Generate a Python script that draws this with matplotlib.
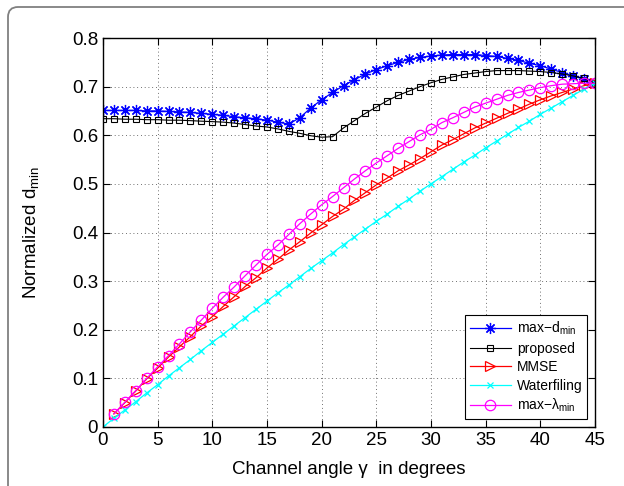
import matplotlib
matplotlib.use('Agg')
import matplotlib.pyplot as plt
from matplotlib.patches import FancyBboxPatch

plt.rcParams.update({
    'font.family': ['Liberation Sans', 'DejaVu Sans'],
    'mathtext.default': 'regular',
    'font.size': 13,
})

# channel angle in degrees
gamma = list(range(0, 46))
gamma1 = list(range(1, 46))

max_dmin = [0.651, 0.651, 0.651, 0.651, 0.650, 0.650, 0.649, 0.648, 0.647, 0.645,
            0.643, 0.641, 0.638, 0.636, 0.634, 0.631, 0.627, 0.623, 0.636, 0.656,
            0.673, 0.688, 0.702, 0.714, 0.726, 0.735, 0.743, 0.750, 0.756, 0.760,
            0.763, 0.765, 0.766, 0.766, 0.766, 0.764, 0.762, 0.758, 0.754, 0.748,
            0.743, 0.736, 0.729, 0.722, 0.715, 0.708]

proposed = [0.634, 0.634, 0.633, 0.633, 0.632, 0.632, 0.631, 0.631, 0.630, 0.629,
            0.628, 0.627, 0.625, 0.622, 0.619, 0.617, 0.613, 0.608, 0.604, 0.599,
            0.596, 0.597, 0.615, 0.630, 0.645, 0.658, 0.671, 0.682, 0.691, 0.700,
            0.708, 0.715, 0.720, 0.725, 0.728, 0.731, 0.733, 0.733, 0.733, 0.732,
            0.731, 0.729, 0.726, 0.722, 0.717, 0.708]

mmse = [0.027, 0.050, 0.074, 0.099, 0.121, 0.144, 0.165, 0.186, 0.208,
        0.227, 0.248, 0.268, 0.289, 0.307, 0.327, 0.345, 0.364, 0.381, 0.399,
        0.416, 0.433, 0.448, 0.466, 0.482, 0.498, 0.512, 0.527, 0.539, 0.552,
        0.566, 0.580, 0.591, 0.603, 0.615, 0.625, 0.635, 0.645, 0.654, 0.664,
        0.673, 0.681, 0.688, 0.695, 0.702, 0.707]

waterfiling = [0.000, 0.018, 0.035, 0.052, 0.070, 0.087, 0.105, 0.122, 0.139, 0.157,
               0.174, 0.191, 0.208, 0.225, 0.242, 0.259, 0.276, 0.292, 0.309, 0.326,
               0.342, 0.358, 0.375, 0.391, 0.407, 0.423, 0.438, 0.454, 0.469, 0.485,
               0.500, 0.515, 0.530, 0.545, 0.559, 0.574, 0.588, 0.602, 0.616, 0.629,
               0.643, 0.656, 0.669, 0.682, 0.695, 0.707]

max_lambda = [0.027, 0.051, 0.075, 0.100, 0.124, 0.147, 0.171, 0.196, 0.220,
              0.244, 0.267, 0.288, 0.311, 0.333, 0.355, 0.374, 0.396, 0.418, 0.438,
              0.457, 0.474, 0.492, 0.510, 0.527, 0.543, 0.558, 0.573, 0.587, 0.601,
              0.612, 0.626, 0.636, 0.647, 0.658, 0.666, 0.674, 0.682, 0.688, 0.693,
              0.698, 0.702, 0.705, 0.706, 0.707, 0.707]

fig = plt.figure(figsize=(6.24, 4.86), dpi=100)

# rounded frame around the figure (cut off on right and bottom)
frame = FancyBboxPatch((8, -30), 660, 479 + 30, boxstyle='round,pad=0,rounding_size=10',
                       transform=None, facecolor='none', edgecolor='#808080', lw=1.3)
fig.patches.append(frame)

ax = fig.add_axes([0.165, 0.1214, 0.7885, 0.8004])

ax.plot(gamma, max_dmin, '-', color='blue', marker=(8, 2, 0), ms=8, mew=0.9, lw=0.9,
        label='max\u2212d$_{min}$')
ax.plot(gamma, proposed, '-', color='black', marker='s', ms=4, mfc='none', mew=0.8, lw=0.8,
        label='proposed')
ax.plot(gamma1, mmse, '-', color='red', marker='>', ms=7, mfc='none', mew=0.9, lw=0.9, label='MMSE')
ax.plot(gamma, waterfiling, '-', color='cyan', marker='x', ms=5, mew=0.9, lw=0.9, label='Waterfiling')
ax.plot(gamma1, max_lambda, '-', color='magenta', marker='o', ms=7.5, mfc='none', mew=0.9, lw=0.9,
        label='max\u2212\u03bb$_{min}$')

ax.set_xlim(0, 45)
ax.set_ylim(0, 0.8)
ax.set_xticks(range(0, 46, 5))
ax.set_yticks([0, 0.1, 0.2, 0.3, 0.4, 0.5, 0.6, 0.7, 0.8])
ax.set_yticklabels(['0', '0.1', '0.2', '0.3', '0.4', '0.5', '0.6', '0.7', '0.8'])
ax.tick_params(direction='in', top=True, right=True, length=5, width=0.8, labelsize=13.5)
ax.grid(True, color='#404040', linestyle=(0, (1, 3.5)), lw=0.6)
for s in ax.spines.values():
    s.set_linewidth(1.0)

ax.set_xlabel('Channel angle \u03b3  in degrees', fontsize=13.5, labelpad=9)
ax.set_ylabel('Normalized d$_{min}$', fontsize=13.5, labelpad=22)

leg = ax.legend(loc='lower right', fontsize=10, handlelength=3.0, labelspacing=0.32,
                borderpad=0.35, handletextpad=0.4, borderaxespad=0.55, fancybox=False,
                framealpha=1)
leg.get_frame().set_edgecolor('black')
leg.get_frame().set_linewidth(0.8)

fig.savefig('out.png', dpi=100)
